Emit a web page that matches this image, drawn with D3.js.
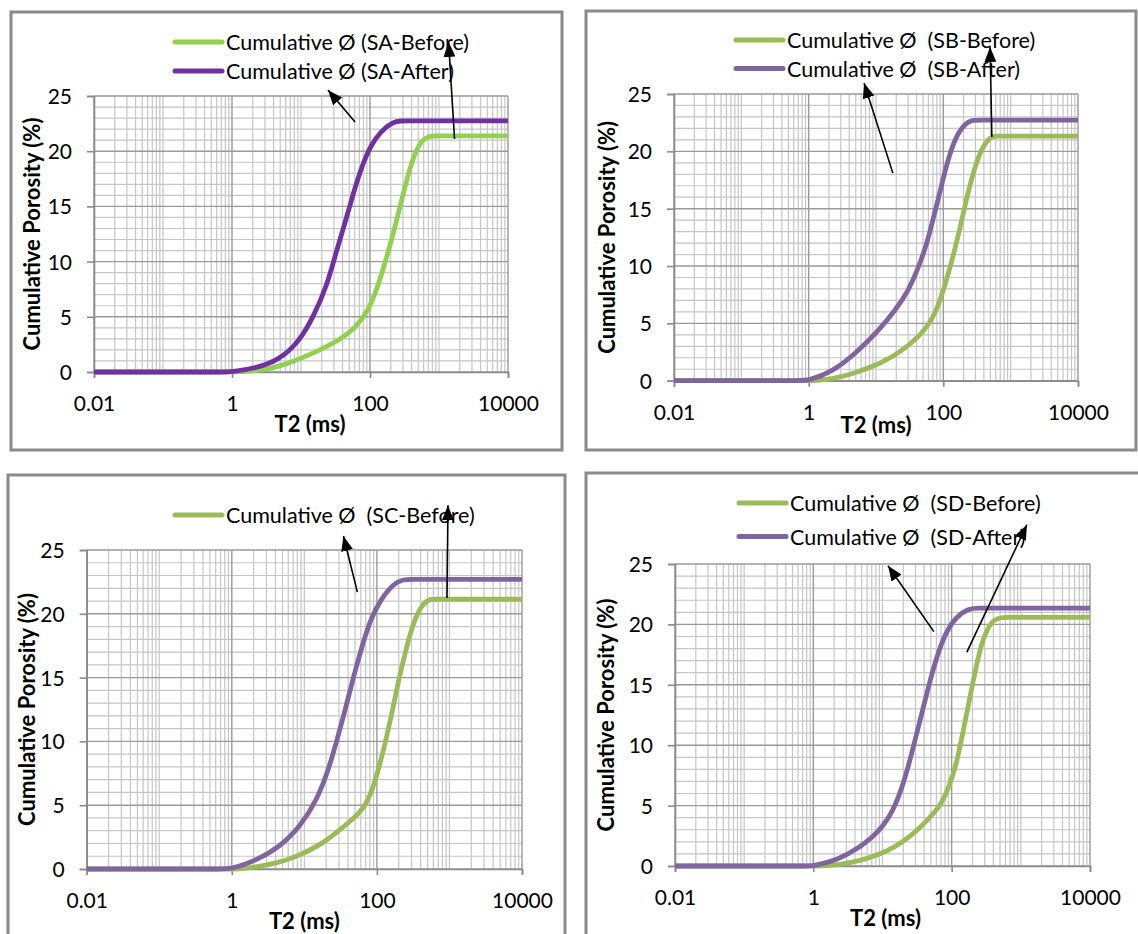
<!DOCTYPE html>
<html><head><meta charset="utf-8">
<script src="https://cdn.jsdelivr.net/npm/d3@7"></script>
<style>
body{margin:0;background:#fff}
svg{display:block}
text{font-family:Lato,"Open Sans","Liberation Sans",sans-serif;fill:#000}
</style>
</head><body>
<svg id="chart" width="1138" height="934"></svg>
<script>
// ---------------- DATA ----------------
const xTickLabels = [0.01, 1, 100, 10000];
const yTickLabels = [0, 5, 10, 15, 20, 25];

// Panel A
const t2A_before  = [0.01, 0.3, 0.7, 1, 1.3, 2.5, 4.97, 15.1, 36.7, 64.1, 94.4, 125, 165, 218, 272, 340, 425, 562, 741, 900, 1300, 3000, 10000];
const phiA_before = [0, 0, 0, 0, 0.02, 0.13, 0.48, 1.69, 2.9, 4.1, 5.6, 7.43, 9.85, 12.56, 14.97, 17.39, 19.5, 21.05, 21.38, 21.38, 21.38, 21.38, 21.38];
const t2A_after   = [0.01, 0.3, 0.7, 1, 2.84, 5.55, 9.7, 15.1, 23.6, 32.9, 43.4, 57.3, 75.9, 100, 140, 218, 280, 360, 600, 2000, 10000];
const phiA_after  = [0, 0, 0, 0, 0.48, 1.39, 2.9, 5.0, 7.73, 11.05, 13.47, 16.2, 18.6, 20.4, 21.77, 22.67, 22.75, 22.75, 22.75, 22.75, 22.75];
// Panel B
const t2B_before  = [0.01, 0.3, 0.7, 1, 1.3, 2.2, 3.98, 12.4, 27.5, 54.6, 76.2, 101, 135, 170, 213, 267, 355, 499, 620, 900, 3000, 10000];
const phiB_before = [0, 0, 0, 0, 0.01, 0.15, 0.5, 1.52, 2.82, 4.42, 5.88, 7.9, 10.52, 12.85, 15.47, 17.79, 20.1, 21.33, 21.33, 21.33, 21.33, 21.33];
const t2B_after   = [0.01, 0.3, 0.7, 1, 2.26, 5.01, 11.1, 19.5, 30.7, 43.2, 57.3, 71.9, 90.4, 113, 151, 212, 266, 340, 600, 2000, 10000];
const phiB_after  = [0, 0, 0, 0, 0.79, 2.39, 4.42, 6.16, 7.9, 9.94, 11.98, 14.3, 16.6, 18.95, 21.27, 22.44, 22.73, 22.73, 22.73, 22.73, 22.73];
// Panel C
const t2C_before  = [0.01, 0.3, 0.7, 1, 1.45, 4.1, 7.89, 18.3, 34.7, 58.9, 80.9, 105, 130, 161, 199, 245, 304, 398, 513, 640, 1000, 3000, 10000];
const phiC_before = [0, 0, 0, 0, 0.01, 0.42, 0.97, 2.0, 3.32, 4.37, 5.67, 7.76, 9.85, 12.2, 14.8, 16.9, 18.99, 20.56, 21.14, 21.14, 21.14, 21.14, 21.14];
const t2C_after   = [0.01, 0.3, 0.7, 1, 2.21, 4.63, 8.75, 14.9, 21.5, 28.1, 36.6, 47.6, 62.1, 80.9, 111, 170, 233, 300, 500, 2000, 10000];
const phiC_after  = [0, 0, 0, 0, 0.7, 1.75, 3.32, 5.4, 7.76, 10.1, 12.46, 15.07, 17.42, 19.5, 21.08, 22.39, 22.7, 22.7, 22.7, 22.7, 22.7];
// Panel D
const t2D_before  = [0.01, 0.3, 0.7, 1, 1.55, 3.3, 10.2, 24.8, 48.3, 71.3, 94.2, 117, 147, 183, 229, 285, 377, 498, 620, 1000, 3000, 10000];
const phiD_before = [0, 0, 0, 0, 0.01, 0.2, 0.97, 2.34, 4.0, 5.1, 6.76, 8.42, 11.18, 13.93, 16.7, 18.9, 20.28, 20.58, 20.58, 20.58, 20.58, 20.58];
const t2D_after   = [0.01, 0.3, 0.7, 1, 2.17, 4.71, 9.16, 14.3, 20, 26.3, 34.7, 45.7, 60.3, 79.4, 117, 183, 240, 400, 1500, 10000];
const phiD_after  = [0, 0, 0, 0, 0.47, 1.52, 2.9, 4.55, 6.76, 9.25, 12.0, 14.76, 17.24, 19.18, 20.7, 21.33, 21.35, 21.35, 21.35, 21.35];

// Legend labels
const legendA = ["Cumulative Ø (SA-Before)", "Cumulative Ø (SA-After)"];
const legendB = ["Cumulative Ø  (SB-Before)", "Cumulative Ø  (SB-After)"];
const legendC = ["Cumulative Ø  (SC-Before)"];
const legendD = ["Cumulative Ø  (SD-Before)", "Cumulative Ø  (SD-After)"];

// Annotation arrows in data space: [T2 tail, phi tail, T2 tip, phi tip]
const arrowsA = [[60.7, 22.64, 24.6, 25.54], [1679, 21.1, 1377, 29.9]];
const arrowsB = [[17.8, 18.1, 6.65, 25.95], [525, 21.25, 495, 29.1]];
const arrowsC = [[53.8, 21.7, 34.6, 26.1], [925, 21.24, 955, 28.5]];
const arrowsD = [[55.3, 19.4, 12.0, 24.85], [166, 17.7, 1222, 28.25]];

// ---------------- LAYOUT ----------------
const zip = (a, b) => a.map((v, i) => [v, b[i]]);
const panels = [
  { frame:[11,12,551,438], plot:[94,96,508,372], leg:[175,42,29], titleX:9, titleDy:51, ytDx:-63,
    colors:["#92d050","#7030a0"], legend:legendA, arrows:arrowsA,
    series:[zip(t2A_before,phiA_before), zip(t2A_after,phiA_after)] },
  { frame:[586,11,550,439], plot:[674,94,1078,380.7], leg:[736,40,28.5], titleX:0, titleDy:44, ytDx:-68,
    colors:["#9bbb59","#8064a2"], legend:legendB, arrows:arrowsB,
    series:[zip(t2B_before,phiB_before), zip(t2B_after,phiB_after)] },
  { frame:[8,475,557,480], plot:[86.7,550,522,869], leg:[175,515,0], titleX:0, titleDy:51, ytDx:-60,
    colors:["#9bbb59","#8064a2"], legend:legendC, arrows:arrowsC,
    series:[zip(t2C_before,phiC_before), zip(t2C_after,phiC_after)] },
  { frame:[586,473,570,480], plot:[675,564,1090,866], leg:[739,503,33.5], titleX:3, titleDy:51, ytDx:-70,
    colors:["#9bbb59","#8064a2"], legend:legendD, arrows:arrowsD,
    series:[zip(t2D_before,phiD_before), zip(t2D_after,phiD_after)] }
];

const svg = d3.select("#chart");
const defs = svg.append("defs");
defs.append("marker").attr("id","ah").attr("markerUnits","userSpaceOnUse")
  .attr("viewBox","0 0 15 12").attr("refX",15).attr("refY",6)
  .attr("markerWidth",15).attr("markerHeight",12).attr("orient","auto")
  .append("path").attr("d","M0,0 L15,6 L0,12 Z").attr("fill","#000");

const minorT = [];
for (let e = -2; e < 4; e++) for (let m = 1; m <= 9; m++) {
  const v = m * Math.pow(10, e);
  if (!xTickLabels.includes(+v.toPrecision(6))) minorT.push(v);
}
const minorY = d3.range(0, 26).filter(v => v % 5 !== 0);

panels.forEach(p => {
  const g = svg.append("g");
  const [fx, fy, fw, fh] = p.frame;
  g.append("rect").attr("x",fx).attr("y",fy).attr("width",fw).attr("height",fh)
    .attr("fill","#fff").attr("stroke","#8a8a8a").attr("stroke-width",3);

  const [x0, y0, x1, y1] = p.plot;
  const x = d3.scaleLog().domain([0.01, 10000]).range([x0, x1]);
  const y = d3.scaleLinear().domain([0, 25]).range([y1, y0]);

  // minor grid
  g.append("g").selectAll("line").data(minorT).join("line")
    .attr("x1",d=>x(d)).attr("x2",d=>x(d)).attr("y1",y0).attr("y2",y1)
    .attr("stroke","#c6c6c6").attr("stroke-width",1.2);
  g.append("g").selectAll("line").data(minorY).join("line")
    .attr("x1",x0).attr("x2",x1).attr("y1",d=>y(d)).attr("y2",d=>y(d))
    .attr("stroke","#c6c6c6").attr("stroke-width",1.2);
  // major grid
  g.append("g").selectAll("line").data(xTickLabels).join("line")
    .attr("x1",d=>x(d)).attr("x2",d=>x(d)).attr("y1",y0).attr("y2",y1)
    .attr("stroke","#9a9a9a").attr("stroke-width",1.4);
  g.append("g").selectAll("line").data(yTickLabels).join("line")
    .attr("x1",x0).attr("x2",x1).attr("y1",d=>y(d)).attr("y2",d=>y(d))
    .attr("stroke","#9a9a9a").attr("stroke-width",1.4);

  // axes
  const ya = d3.axisLeft(y).tickValues(yTickLabels).tickSize(7).tickPadding(15).tickFormat(d3.format("d"));
  const yg = g.append("g").attr("transform",`translate(${x0},0)`).call(ya);
  const xa = d3.axisBottom(x).tickValues(xTickLabels).tickSize(6).tickPadding(18)
    .tickFormat(d => d < 1 ? String(d) : d3.format("d")(d));
  const xg = g.append("g").attr("transform",`translate(0,${y1})`).call(xa);
  [yg, xg].forEach(a => {
    a.select(".domain").attr("stroke","#8a8a8a").attr("stroke-width",1.6);
    a.selectAll(".tick line").attr("stroke","#8a8a8a").attr("stroke-width",1.6);
    a.selectAll(".tick text").attr("font-size",21).attr("fill","#000")
      .style("font-family","Lato,'Open Sans',sans-serif");
  });
  yg.selectAll(".tick text").attr("dy","0.36em");

  // titles
  g.append("text").attr("x",(x0+x1)/2 + p.titleX).attr("y",y1 + p.titleDy)
    .attr("text-anchor","middle").attr("dominant-baseline","central")
    .attr("font-size",22).attr("font-weight","bold").text("T2 (ms)");
  g.append("text").attr("transform",`translate(${x0 + p.ytDx},${(y0+y1)/2}) rotate(-90)`)
    .attr("text-anchor","middle").attr("dominant-baseline","central")
    .attr("font-size",22).attr("font-weight","bold").text("Cumulative Porosity (%)");

  // curves
  const line = d3.line().x(d=>x(d[0])).y(d=>y(d[1])).curve(d3.curveBasis);
  p.series.forEach((s, i) => {
    g.append("path").datum(s).attr("d",line).attr("fill","none")
      .attr("stroke",p.colors[i]).attr("stroke-width",4.8).attr("stroke-linejoin","round");
  });

  // legend
  const [lx, ly, ldy] = p.leg;
  p.legend.forEach((t, i) => {
    g.append("line").attr("x1",lx).attr("x2",lx+47).attr("y1",ly+i*ldy).attr("y2",ly+i*ldy)
      .attr("stroke",p.colors[i]).attr("stroke-width",5).attr("stroke-linecap","round");
    g.append("text").attr("x",lx+51).attr("y",ly+i*ldy).attr("dominant-baseline","central")
      .attr("font-size",21.5).style("white-space","pre").attr("xml:space","preserve").text(t);
  });

  // arrows
  p.arrows.forEach(a => {
    g.append("line").attr("x1",x(a[0])).attr("y1",y(a[1])).attr("x2",x(a[2])).attr("y2",y(a[3]))
      .attr("stroke","#000").attr("stroke-width",1.6).attr("marker-end","url(#ah)");
  });
});
</script>
</body></html>
